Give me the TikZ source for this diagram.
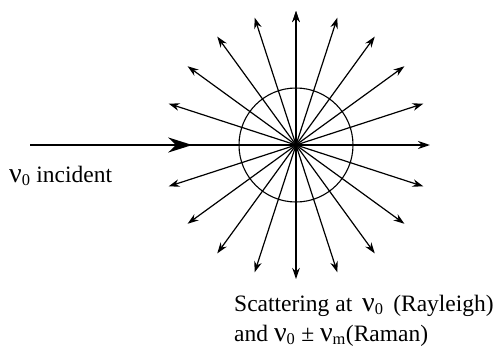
\documentclass[tikz,border=0pt]{standalone}
\usepackage{fontspec}
\setmainfont{Liberation Serif}
\usetikzlibrary{arrows.meta,decorations.markings}
\newcommand{\mynu}{{\fontsize{28}{28}\selectfont ν}}
\begin{document}
\begin{tikzpicture}[x=1pt,y=-1pt,
  ray/.style={line width=1.2pt,-{Stealth[length=11pt,width=7.5pt]}},
  beam/.style={line width=2.6pt},
  lbl/.style={font=\fontsize{23.5}{28}\selectfont,anchor=base west,inner sep=0pt}]
\useasboundingbox (0,0) rectangle (495,354);
\coordinate (c) at (296,145);
\coordinate (s) at (30,145);
\node[draw,circle,line width=1.1pt,minimum size=114pt,inner sep=0pt] (circ) at (c) {};
\foreach \a in {18,36,...,162,198,216,...,342}{
  \draw[ray] (c) -- ++({-\a}:134) coordinate (t\a);
}
\draw[ray] (c) -- ++(90:-134);
\draw[line width=2.4pt,-{Stealth[length=12pt,width=8pt]}] (c) -- ++(134,0) coordinate (t0);
\draw[beam,postaction={decorate},decoration={markings,mark=at position 0.61 with {\arrow{Stealth[length=24pt,width=15pt]}}}] (s) -- (c);
\node[lbl] (inc) at (9,182) {\mynu\textsubscript{0} incident};
\node[lbl] (sc1) at (234,311) {Scattering at\, \mynu\textsubscript{0}\, (Rayleigh)};
\node[lbl] (sc2) at (234,341) {and \mynu\textsubscript{0} ± \mynu\textsubscript{m}(Raman)};
\end{tikzpicture}
\end{document}
